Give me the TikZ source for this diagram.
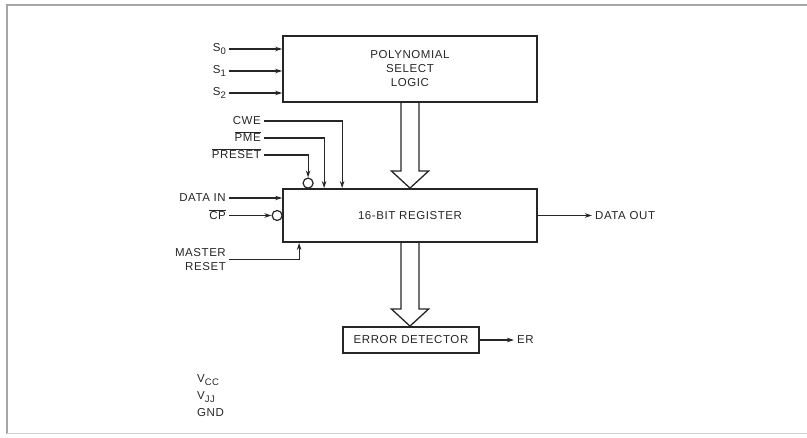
\documentclass[tikz,border=0pt]{standalone}
\usepackage{fontspec}
\setmainfont{Liberation Sans}[LetterSpace=5]
\usepackage{tikz}
\usetikzlibrary{positioning,arrows.meta,calc}

\newcommand{\lowidx}[1]{\raisebox{-3.8pt}{\fontsize{9.5}{9.5}\selectfont #1}}
\newcommand{\negsig}[1]{$\overline{\mbox{#1}}$}
\newcommand{\fatarrow}[2]{%
  \draw[line width=1.3pt, draw=black!85, line join=miter]
    let \p1=(#1.south), \p2=(#2.north) in
    (\x1-9pt,\y1) -- (\x1-9pt,\y2+17pt) -- (\x1-18.5pt,\y2+17pt) -- (\x1,\y2)
    -- (\x1+18.5pt,\y2+17pt) -- (\x1+9pt,\y2+17pt) -- (\x1+9pt,\y1);}

\begin{document}
\begin{tikzpicture}[x=1pt, y=-1pt, >={Stealth[length=7pt,width=4.5pt]},
    every node/.style={font=\fontsize{11.5}{14}\selectfont, text=black!85, align=center},
    blk/.style={draw=black!85, line width=1.8pt, inner sep=0pt},
    sig/.style={->, draw=black!85, line width=1.1pt},
    lbl/.style={inner sep=3pt, text height=8pt, text depth=0pt},
    bubble/.style={draw=black!85, circle, line width=1.2pt, minimum size=10pt, inner sep=0pt}]
  \useasboundingbox (0,0) rectangle (807,438);
  \draw[gray!70, line width=1.4pt] (807,5) -- (7,5) -- (7,434);
  \draw[gray!35, line width=1pt] (7,434) -- (807,434);

  \node[blk, minimum width=254pt, minimum height=66pt] (poly)
      at (410,69) {POLYNOMIAL\\SELECT\\LOGIC};
  \node[blk, minimum width=254pt, minimum height=53pt] (reg)
      at (410,215.5) {16-BIT REGISTER};
  \node[blk, minimum width=136pt, minimum height=26pt] (err)
      at (411,340) {ERROR DETECTOR};

  \fatarrow{poly}{reg}
  \fatarrow{reg}{err}

  % polynomial select
  \node[lbl, text depth=3.8pt, anchor=east] (s0) at (229,49) {S\lowidx{0}};
  \node[lbl, text depth=3.8pt, anchor=east] (s1) at (229,71) {S\lowidx{1}};
  \node[lbl, text depth=3.8pt, anchor=east] (s2) at (229,93) {S\lowidx{2}};
  \draw[sig] (s0) -- (s0 -| poly.west);
  \draw[sig] (s1) -- (s1 -| poly.west);
  \draw[sig] (s2) -- (s2 -| poly.west);

  % register control
  \node[lbl, anchor=east] (cwe) at (264,121) {CWE};
  \node[lbl, anchor=east] (pme) at (264,138) {\negsig{PME}};
  \node[lbl, anchor=east] (preset) at (264,155) {\negsig{PRESET}};
  \node[bubble] (presetinv) at ([xshift=26pt, yshift=5pt]reg.north west) {};
  \coordinate (pmein) at ([xshift=42pt]reg.north west);
  \coordinate (cwein) at ([xshift=60pt]reg.north west);
  \draw[sig] (cwe) -| (cwein);
  \draw[sig] (pme) -| (pmein);
  \draw[sig] (preset) -| (presetinv);

  \node[lbl, anchor=east] (datain) at (229,198) {DATA IN};
  \node[lbl, anchor=east] (cp) at (229,215.5) {\negsig{CP}};
  \node[bubble] (cpinv) at ([xshift=-5pt]reg.west) {};
  \draw[sig] (datain) -- (datain -| reg.west);
  \draw[sig] (cp) -- (cpinv);

  \node[anchor=east, align=right, inner sep=3pt] (mreset)
      at (229,259.5) {MASTER\\RESET};
  \coordinate (mrin) at ([xshift=17pt]reg.south west);
  \draw[sig] (mreset) -| (mrin);

  % outputs
  \node[lbl, anchor=west] (dout) at (592,215.5) {DATA OUT};
  \draw[sig] (reg) -- (dout);
  \node[lbl, anchor=west] (er) at (514,340) {ER};
  \draw[sig] (err) -- (er);

  \node[anchor=west, inner sep=0pt] (vcc) at (197,380) {V\lowidx{CC}};
  \node[anchor=west, inner sep=0pt] (vjj) at (197,397) {V\lowidx{JJ}};
  \node[anchor=west, inner sep=0pt] (gnd) at (197,413) {GND};
\end{tikzpicture}
\end{document}
